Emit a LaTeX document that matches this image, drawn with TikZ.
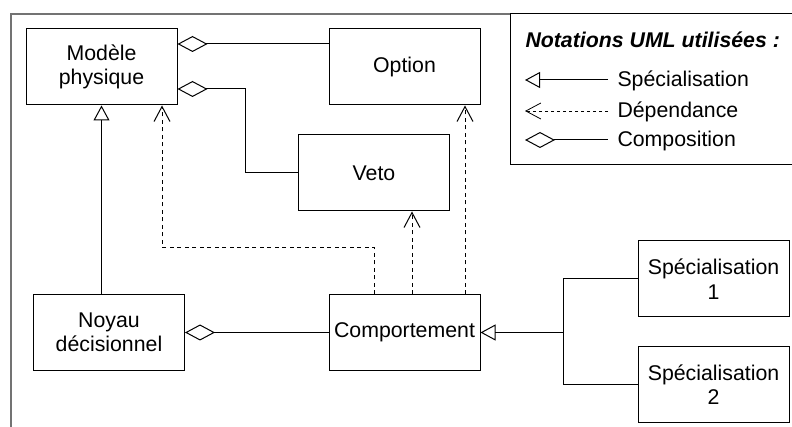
\documentclass[tikz,border=0pt]{standalone}
\usepackage{fontspec}
\setmainfont{Liberation Sans}
\usetikzlibrary{arrows.meta,calc}
\begin{document}
\begin{tikzpicture}[x=1pt,y=-1pt, line width=1pt,
  txt/.style={font=\fontsize{21.3}{24.5}\selectfont},
  box/.style={draw, txt, minimum width=151pt, minimum height=76pt, align=center, inner sep=2pt},
  lbl/.style={txt, inner sep=0pt, anchor=base west},
  compo/.style={{Diamond[open,length=30pt,width=16pt]}-},
  spec/.style={-{Triangle[open,length=15pt,width=16pt]}},
  dep/.style={dash pattern=on 4pt off 3.5pt, -{Straight Barb[length=15pt,width=16pt]}},
  frame/.style={draw=black!55, line width=1.2pt}
]
\useasboundingbox (0,0) rectangle (792,427);
\fill[white] (0,0) rectangle (792,427);

% outer frame and legend box
\coordinate (fb) at (11,427);
\coordinate (ft) at (11,14);
\coordinate (lt) at (510,14);
\draw[frame] (fb) -- (ft) -- (lt);
\draw (510,14) rectangle (800,165);

% boxes
\node[box] (mp) at (101.5,67) {Modèle\\physique};
\node[box] (opt) at (404.5,67) {Option};
\node[box] (veto) at (374,173) {Veto};
\node[box, minimum height=75pt] (noyau) at (109,332.5) {Noyau\\décisionnel};
\node[box, minimum height=75pt] (cmp) at (404.5,332.5) {Comportement};
\node[box] (s1) at (713.5,279) {Spécialisation\\1};
\node[box, minimum height=75pt] (s2) at (713.5,384.5) {Spécialisation\\2};

% compositions
\draw[compo] ([yshift=23pt]mp.east) -- ([yshift=23pt]opt.west);
\draw[compo] ([yshift=-22pt]mp.east) -- ++(68,0) |- (veto.west);
\draw[compo] (noyau.east) -- (cmp.west);

% specialisations
\draw[spec] (noyau.north -| mp.south) -- (mp.south);
\coordinate (j) at (563,332.5);
\draw[spec] (j) -- (cmp.east);
\draw (s1.west) -| (j);
\draw (s2.west) -| (j);

% dependances
\draw[dep] ([xshift=-30.5pt]cmp.north) -- ++(0,-47) -| ([xshift=60.5pt]mp.south);
\draw[dep] ([xshift=7.5pt]cmp.north) -- ([xshift=7.5pt]cmp.north |- veto.south);
\draw[dep] ([xshift=60.5pt]cmp.north) -- ([xshift=60.5pt]cmp.north |- opt.south);

% legend
\node[lbl, font=\fontsize{21.3}{24.5}\selectfont\bfseries\itshape] (title) at (525,48) {Notations UML utilisées :};
\coordinate (a1) at (525,80); \coordinate (b1) at (608,80);
\coordinate (a2) at (525,111); \coordinate (b2) at (608,111);
\coordinate (a3) at (525,140); \coordinate (b3) at (608,140);
\draw[spec] (b1) -- (a1);
\draw[dep, dash pattern=on 3pt off 3pt, line width=0.8pt] (b2) -- (a2);
\draw[compo] (a3) -- (b3);
\node[lbl] (t1) at (617,87) {Spécialisation};
\node[lbl] (t2) at (617,118) {Dépendance};
\node[lbl] (t3) at (617,147) {Composition};
\end{tikzpicture}
\end{document}
